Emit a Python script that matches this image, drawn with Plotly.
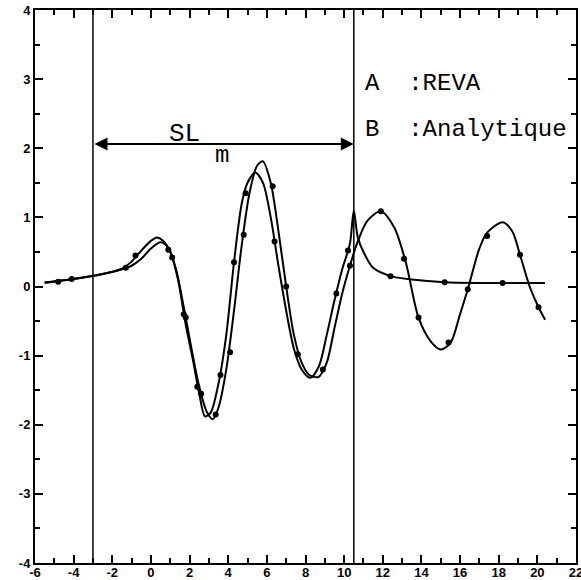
import plotly.graph_objects as go

# Curve A (REVA) - earlier phase, spikes at 10.5 then decays
xa = [-5.5, -4.5, -3.5, -2.5, -1.5, -1.0, -0.5, 0.0, 0.3, 0.6, 1.0, 1.4, 1.8, 2.2, 2.5, 2.8, 3.1, 3.5,
      3.9, 4.3, 4.7, 5.0, 5.4, 5.8, 6.2, 6.6, 7.0, 7.4, 7.8, 8.25, 8.7, 9.1, 9.5, 9.9, 10.3, 10.5,
      10.7, 11.0, 11.5, 12.4, 13.5, 15.2, 17.0, 18.2, 20.4]
ya = [0.06, 0.09, 0.13, 0.18, 0.26, 0.36, 0.52, 0.66, 0.71, 0.67, 0.50, 0.10, -0.55, -1.10, -1.55, -1.88, -1.82, -1.40,
      -0.70, 0.35, 1.20, 1.50, 1.65, 1.50, 1.00, 0.30, -0.35, -0.90, -1.20, -1.32, -1.15, -0.70, -0.20, 0.25, 0.62, 1.10,
      0.72, 0.50, 0.27, 0.15, 0.10, 0.06, 0.05, 0.05, 0.05]

# Curve B (Analytique) - later phase, keeps oscillating
xb = [-5.5, -4.5, -3.5, -2.5, -1.5, -1.0, -0.5, 0.0, 0.5, 0.9, 1.3, 1.7, 2.1, 2.5, 2.9, 3.2, 3.5, 3.9, 4.3,
      4.7, 5.1, 5.5, 5.8, 6.2, 6.6, 7.0, 7.4, 7.8, 8.2, 8.66, 9.1, 9.5, 9.9, 10.3, 10.7, 11.2, 11.9, 12.6,
      13.2, 13.85, 14.5, 15.0, 15.5, 16.0, 16.4, 17.0, 17.4, 18.2, 18.7, 19.1, 19.6, 20.06, 20.4]
yb = [0.05, 0.09, 0.13, 0.18, 0.25, 0.30, 0.40, 0.55, 0.64, 0.56, 0.25, -0.30, -0.90, -1.45, -1.82, -1.92, -1.75, -1.20, -0.35,
      0.60, 1.35, 1.75, 1.81, 1.50, 0.80, 0.00, -0.70, -1.10, -1.28, -1.31, -1.10, -0.60, -0.10, 0.30, 0.65, 0.95, 1.09, 0.85,
      0.34, -0.45, -0.80, -0.91, -0.82, -0.40, -0.04, 0.55, 0.78, 0.93, 0.80, 0.46, 0.00, -0.30, -0.48]

# Marker points
ma_x = [-4.1, -0.8, 0.9, 1.7, 2.4, 3.6, 4.3, 4.9, 6.4, 7.6, 9.6, 10.2, 12.4, 15.2, 18.2]
ma_y = [0.11, 0.45, 0.53, -0.40, -1.45, -1.28, 0.35, 1.35, 0.65, -0.98, -0.10, 0.52, 0.15, 0.06, 0.05]
mb_x = [-4.8, -1.3, 1.1, 1.8, 2.6, 3.35, 4.1, 4.8, 6.3, 7.0, 8.9, 10.3, 11.9, 13.1, 13.85, 15.4, 16.4, 17.4, 19.1, 20.06]
mb_y = [0.07, 0.27, 0.42, -0.45, -1.55, -1.85, -0.95, 0.75, 1.45, 0.00, -1.20, 0.30, 1.09, 0.40, -0.45, -0.81, -0.04, 0.73, 0.46, -0.30]

x_ticks = [-6, -4, -2, 0, 2, 4, 6, 8, 10, 12, 14, 16, 18, 20, 22]
y_ticks = [-4, -3, -2, -1, 0, 1, 2, 3, 4]
region = [-3, 10.5]
arrow_y = 2.06
legend_lines = ["A  :REVA", "B  :Analytique"]
legend_y = [2.93, 2.27]

fig = go.Figure()
for xs, ys in [(xa, ya), (xb, yb)]:
    fig.add_trace(go.Scatter(x=xs, y=ys, mode="lines", line=dict(color="black", width=2, shape="spline", smoothing=0.8),
                             showlegend=False, hoverinfo="skip"))
for xs, ys in [(ma_x, ma_y), (mb_x, mb_y)]:
    fig.add_trace(go.Scatter(x=xs, y=ys, mode="markers", marker=dict(color="black", size=6, symbol="circle"),
                             showlegend=False, hoverinfo="skip"))

for xv in region:
    fig.add_shape(type="line", x0=xv, x1=xv, y0=0, y1=1, xref="x", yref="paper",
                  line=dict(color="black", width=1.5))

fig.add_annotation(x=region[1], y=arrow_y, ax=region[0], ay=arrow_y, xref="x", yref="y", axref="x", ayref="y",
                   text="", showarrow=True, arrowhead=2, arrowside="end+start", arrowsize=1.3, arrowwidth=2,
                   arrowcolor="black")
fig.add_annotation(x=1.75, y=2.2, xref="x", yref="y", text="SL", showarrow=False,
                   font=dict(family="Liberation Mono", size=26, color="black"))
fig.add_annotation(x=3.7, y=1.9, xref="x", yref="y", text="m", showarrow=False,
                   font=dict(family="Liberation Mono", size=24, color="black"))
for t, yv in zip(legend_lines, legend_y):
    fig.add_annotation(x=11.0, y=yv, xref="x", yref="y", text=t, showarrow=False, xanchor="left",
                       font=dict(family="Liberation Mono", size=24, color="black"))

tickfont = dict(family="Liberation Sans", size=13, color="black", weight="bold")
fig.update_xaxes(range=[-6, 22], tickvals=x_ticks, ticktext=[str(v) for v in x_ticks], ticks="inside", ticklen=8,
                 tickwidth=1.5, tickcolor="black", showline=True, linewidth=2, linecolor="black", mirror="ticks",
                 showgrid=False, zeroline=False, tickfont=tickfont, automargin=False, ticklabelstandoff=-4,
                 ticklabeloverflow="allow",
                 minor=dict(dtick=1, ticks="inside", ticklen=5, tickcolor="black", tickwidth=1.5, showgrid=False))
fig.update_yaxes(range=[-4, 4], tickvals=y_ticks, ticktext=[str(v) for v in y_ticks], ticks="inside", ticklen=8,
                 tickwidth=1.5, tickcolor="black", showline=True, linewidth=2, linecolor="black", mirror="ticks",
                 showgrid=False, zeroline=False, tickfont=tickfont, automargin=False, ticklabeloverflow="allow",
                 minor=dict(dtick=0.5, ticks="inside", ticklen=5, tickcolor="black", tickwidth=1.5, showgrid=False))
fig.update_layout(width=581, height=580, margin=dict(l=35, r=5, t=10, b=17), plot_bgcolor="white",
                  paper_bgcolor="white", showlegend=False)
fig.write_html("out.html", config={"displayModeBar": False},
               post_script="document.body.style.margin='0';document.body.style.overflow='hidden';")
